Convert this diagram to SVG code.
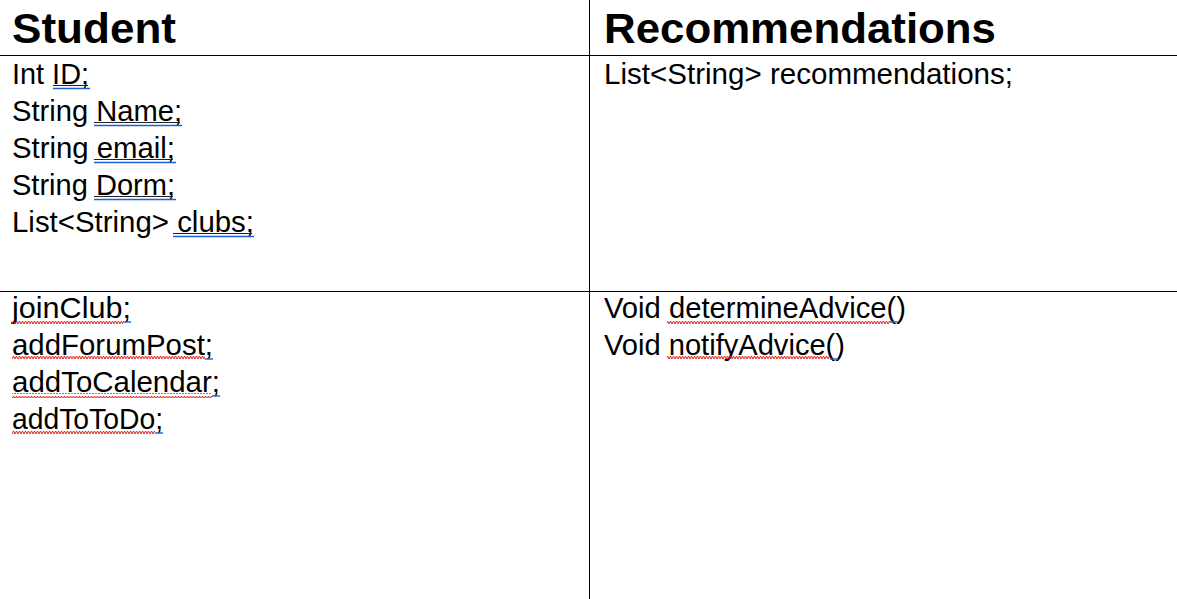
<svg xmlns="http://www.w3.org/2000/svg" width="1177" height="599" viewBox="0 0 1177 599">
  <style>
    .h { font-family: "Liberation Sans", Arial, sans-serif; font-weight: bold; font-size: 43px; fill: #000; }
    .t { font-family: "Liberation Sans", Arial, sans-serif; font-size: 29px; fill: #000; }
    .grid { stroke: #000; stroke-width: 1; fill: none; }
    .ul { stroke: #222; stroke-width: 1.2; }
    .bl { stroke: #1a5fd6; stroke-width: 1.4; }
  </style>
  <defs>
    <pattern id="wave" width="6" height="5" patternUnits="userSpaceOnUse">
      <path d="M0,4 L1.5,1 L3,4 L4.5,1 L6,4" fill="none" stroke="#e0201c" stroke-width="1"/>
    </pattern>
  </defs>
  <rect width="1177" height="599" fill="#fff"/>

  <g id="connectors">
    <line class="grid" x1="0" y1="55.5" x2="1177" y2="55.5"/>
    <line class="grid" x1="0" y1="291.5" x2="1177" y2="291.5"/>
    <line class="grid" x1="589.5" y1="0" x2="589.5" y2="599"/>
  </g>

  <g id="student-header">
    <text class="h" x="12" y="43" textLength="164" lengthAdjust="spacingAndGlyphs">Student</text>
  </g>

  <g id="student-attributes">
    <text class="t" x="12" y="84" textLength="77" lengthAdjust="spacingAndGlyphs">Int ID;</text>
    <text class="t" x="12" y="121" textLength="170" lengthAdjust="spacingAndGlyphs">String Name;</text>
    <text class="t" x="12" y="158" textLength="163" lengthAdjust="spacingAndGlyphs">String email;</text>
    <text class="t" x="12" y="195" textLength="163" lengthAdjust="spacingAndGlyphs">String Dorm;</text>
    <text class="t" x="12" y="232" textLength="242" lengthAdjust="spacingAndGlyphs">List&lt;String&gt; clubs;</text>
    <line class="ul" x1="53" y1="85.5" x2="88" y2="85.5"/>
    <line class="bl" x1="53" y1="88.5" x2="90" y2="88.5"/>
    <line class="ul" x1="94" y1="122.5" x2="180" y2="122.5"/>
    <line class="bl" x1="94" y1="125.5" x2="182" y2="125.5"/>
    <line class="ul" x1="94" y1="159.5" x2="173" y2="159.5"/>
    <line class="bl" x1="94" y1="162.5" x2="176" y2="162.5"/>
    <line class="ul" x1="94" y1="196.5" x2="173" y2="196.5"/>
    <line class="bl" x1="94" y1="199.5" x2="176" y2="199.5"/>
    <line class="ul" x1="173" y1="233.5" x2="252" y2="233.5"/>
    <line class="bl" x1="173" y1="236.5" x2="254" y2="236.5"/>
  </g>

  <g id="student-methods">
    <text class="t" x="12" y="318" textLength="119" lengthAdjust="spacingAndGlyphs">joinClub;</text>
    <text class="t" x="12" y="355" textLength="201" lengthAdjust="spacingAndGlyphs">addForumPost;</text>
    <text class="t" x="12" y="392" textLength="208" lengthAdjust="spacingAndGlyphs">addToCalendar;</text>
    <text class="t" x="12" y="429" textLength="151" lengthAdjust="spacingAndGlyphs">addToToDo;</text>
    <rect x="12" y="319" width="111" height="5" fill="url(#wave)"/>
    <line class="bl" x1="123" y1="322" x2="131" y2="322"/>
    <rect x="12" y="356" width="193" height="5" fill="url(#wave)"/>
    <line class="bl" x1="205" y1="359" x2="213" y2="359"/>
    <rect x="12" y="393" width="200" height="5" fill="url(#wave)"/>
    <line class="bl" x1="212" y1="396" x2="220" y2="396"/>
    <rect x="12" y="430" width="143" height="5" fill="url(#wave)"/>
    <line class="bl" x1="155" y1="433" x2="163" y2="433"/>
  </g>

  <g id="recommendations-header">
    <text class="h" x="604" y="43" textLength="392" lengthAdjust="spacingAndGlyphs">Recommendations</text>
  </g>

  <g id="recommendations-attributes">
    <text class="t" x="604" y="84" textLength="409" lengthAdjust="spacingAndGlyphs">List&lt;String&gt; recommendations;</text>
  </g>

  <g id="recommendations-methods">
    <text class="t" x="604" y="318" textLength="302" lengthAdjust="spacingAndGlyphs">Void determineAdvice()</text>
    <text class="t" x="604" y="355" textLength="241" lengthAdjust="spacingAndGlyphs">Void notifyAdvice()</text>
    <rect x="667" y="319" width="223" height="5" fill="url(#wave)"/>
    <line class="bl" x1="890" y1="322" x2="898" y2="322"/>
    <rect x="667" y="356" width="163" height="5" fill="url(#wave)"/>
    <line class="bl" x1="830" y1="359" x2="838" y2="359"/>
  </g>
</svg>
